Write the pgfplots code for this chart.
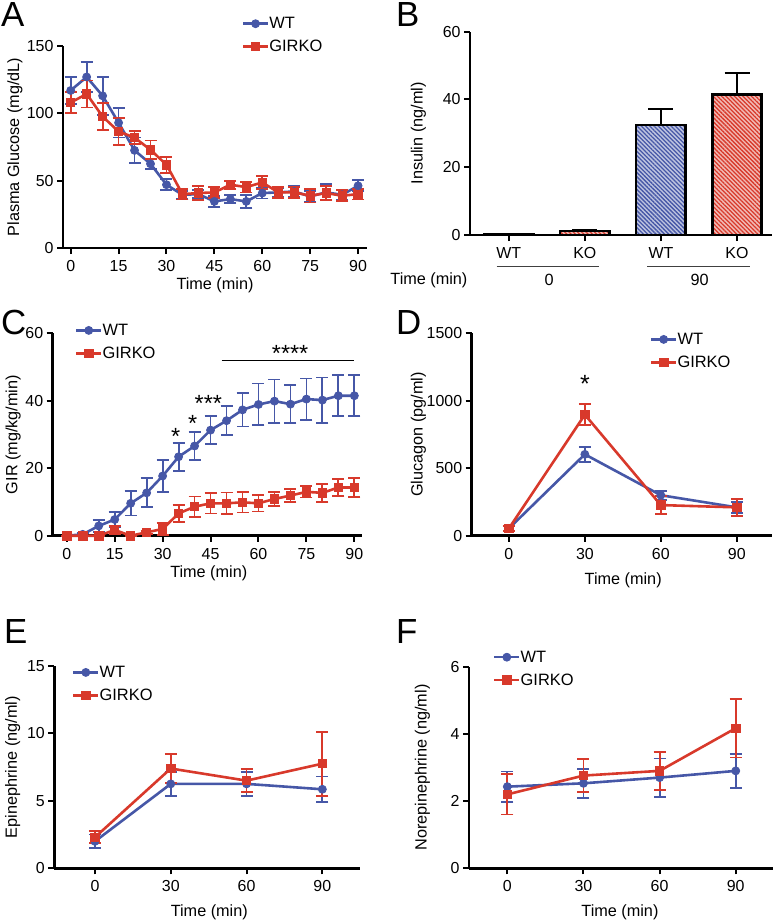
\documentclass[border=0pt]{standalone}
\usepackage{fontspec}
\setmainfont{Liberation Sans}
\usepackage{pgfplots}
\pgfplotsset{compat=1.18}
\usepackage{pgfplotstable}
\usetikzlibrary{patterns.meta}

\definecolor{wtblue}{HTML}{4657A7}
\definecolor{kored}{HTML}{D8392B}
\newcommand{\legfont}{\fontsize{16.5}{19}\selectfont}

\pgfplotstableread{
t m e
0 117 10
5 127 11
10 113 14
15 93 11
20 72.5 9.5
25 62.5 4
30 47 4
35 39.5 3
40 40 3
45 34.6 4
50 36.3 3
55 34.6 5
60 40.8 4
65 41.3 3
70 42 4
75 38.3 4
80 41.3 6
85 39.5 4
90 46.2 4
}\glucWT
\pgfplotstableread{
t m e
0 108 8
5 114.4 10
10 97.6 10
15 86.5 10
20 82 5
25 72.9 7
30 61.8 6
35 40 4
40 40.8 5
45 41.3 4
50 47 3
55 45.2 4
60 48.7 5
65 41.3 4
70 41.3 4
75 38.8 5
80 40.8 5
85 38.8 4
90 40 4
}\glucKO
\pgfplotstableread{
t m e
0 0 0
5 0.4 0.4
10 2.9 1.7
15 4.8 2.3
20 9.6 3.6
25 12.7 4.3
30 17.7 4.7
35 23.4 4.2
40 26.6 4.2
45 31.3 4.2
50 34.1 4.3
55 37.3 4.9
60 38.9 6.2
65 39.9 6.4
70 39.0 5.6
75 40.5 6.1
80 40.2 6.7
85 41.5 6.1
90 41.5 6.1
}\girWT
\pgfplotstableread{
t m e
0 0 0
5 0 0
10 0 0
15 1.7 1.2
20 0 0
25 1.0 0.5
30 2.0 1.8
35 6.6 2.6
40 8.6 3.0
45 9.6 3.0
50 9.6 3.2
55 9.9 3.0
60 9.6 2.4
65 10.9 2.0
70 11.9 2.0
75 13.0 1.7
80 12.7 2.6
85 14.3 2.6
90 14.3 2.8
}\girKO
\pgfplotstableread{
t m e
0 54 20
30 603 57
60 300 34
90 210 40
}\glucagonWT
\pgfplotstableread{
t m e
0 54 20
30 897 79
60 227 65
90 210 62
}\glucagonKO
\pgfplotstableread{
t m e
0 2.0 0.5
30 6.26 0.9
60 6.26 0.9
90 5.86 0.95
}\epiWT
\pgfplotstableread{
t m e
0 2.3 0.45
30 7.4 1.1
60 6.5 0.85
90 7.76 2.37
}\epiKO
\pgfplotstableread{
t m e
0 2.43 0.45
30 2.53 0.43
60 2.70 0.57
90 2.90 0.5
}\neWT
\pgfplotstableread{
t m e
0 2.2 0.6
30 2.76 0.5
60 2.9 0.57
90 4.17 0.87
}\neKO

\pgfplotsset{
  gp/.style={
    scale only axis,
    axis lines=left,
    axis line style={-, line width=2.6bp, black},
    every tick/.style={black, line width=2bp},
    tick align=outside,
    major tick length=6bp,
    minor tick num=0,
    tick label style={font=\fontsize{16}{19}\selectfont},
    xticklabel style={yshift=-3bp},
    label style={font=\fontsize{16.3}{19.5}\selectfont},
    /pgf/number format/assume math mode=true,
    /pgf/number format/1000 sep={},
    scaled ticks=false,
    clip=false,
    legend cell align=left,
    legend style={draw=none, fill=none, inner sep=0pt, outer sep=0pt,
      font=\legfont, row sep=10bp,
      nodes={inner sep=0pt, font=\legfont}, anchor=north west,
      /tikz/every even column/.style={column sep=12.5bp}},
    legend image code/.code={\draw[##1, mark repeat=2, mark phase=2] plot coordinates {(0bp,0bp) (12.5bp,0bp) (25bp,0bp)};},
  },
  wt/.style={wtblue, line width=2.6bp, mark=*, mark size=4bp,
    mark options={solid, fill=wtblue, line width=0.8bp},
    error bars/.cd, y dir=both, y explicit,
    error bar style={line width=1.8bp, wtblue},
    error mark options={rotate=90, line width=1.8bp, mark size=6bp, wtblue}},
  ko/.style={kored, line width=2.6bp, mark=square*, mark size=4.2bp,
    mark options={solid, fill=kored, line width=0.8bp},
    error bars/.cd, y dir=both, y explicit,
    error bar style={line width=1.8bp, kored},
    error mark options={rotate=90, line width=1.8bp, mark size=6bp, kored}},
  barb/.style={ybar, bar width=0.65, bar shift=0pt, draw=black, line width=2.5bp,
    fill=#1!35, postaction={pattern={Lines[angle=-45,distance=3bp,line width=1.3bp]}, pattern color=#1},
    error bars/.cd, y dir=plus, y explicit,
    error bar style={line width=2bp, black},
    error mark options={rotate=90, line width=2bp, mark size=12.5bp, black}},
}

\begin{document}
\begin{tikzpicture}
\path[use as bounding box] (0,0) rectangle (777bp,-923bp);

\node[anchor=base west, font=\fontsize{35}{40}\selectfont, inner sep=0pt] at (1bp,-26.5bp) {A};
\node[anchor=base west, font=\fontsize{35}{40}\selectfont, inner sep=0pt] at (396bp,-26.5bp) {B};
\node[anchor=base west, font=\fontsize{35}{40}\selectfont, inner sep=0pt] at (1bp,-334bp) {C};
\node[anchor=base west, font=\fontsize{35}{40}\selectfont, inner sep=0pt] at (396bp,-334bp) {D};
\node[anchor=base west, font=\fontsize{35}{40}\selectfont, inner sep=0pt] at (4bp,-643bp) {E};
\node[anchor=base west, font=\fontsize{35}{40}\selectfont, inner sep=0pt] at (396bp,-643bp) {F};

% A
\begin{axis}[gp, at={(63bp,-248bp)}, anchor=south west, width=304bp, height=202bp,
  xmin=-2.41, xmax=92.8, ymin=0, ymax=150,
  xtick={0,15,...,90}, ytick={0,50,100,150},
  xlabel={Time (min)}, ylabel={Plasma Glucose (mg/dL)},
  xlabel style={at={(axis description cs:0.5,-0.185)}, anchor=center},
  ylabel style={at={(axis description cs:-0.158,0.5)}, anchor=center},
  legend style={at={(axis description cs:0.588,1.142)}}]
\addplot[wt] table[x=t,y=m,y error=e]{\glucWT};
\addplot[ko] table[x=t,y=m,y error=e]{\glucKO};
\legend{WT,GIRKO}
\end{axis}

% B
\begin{axis}[gp, at={(470bp,-235bp)}, anchor=south west, width=302bp, height=203.3bp,
  xmin=-0.51, xmax=3.46, ymin=0, ymax=60,
  xtick={0,1,2,3}, xticklabels={WT,KO,WT,KO}, ytick={0,20,40,60},
  ylabel={Insulin (ng/ml)},
  ylabel style={at={(axis description cs:-0.171,0.5)}, anchor=center}]
\addplot[barb=wtblue] coordinates {(0,0.3) +- (0,0.1)};
\addplot[barb=kored] coordinates {(1,1.2) +- (0,0.4)};
\addplot[barb=wtblue] coordinates {(2,32.5) +- (0,4.6)};
\addplot[barb=kored] coordinates {(3,41.5) +- (0,6.2)};
\draw[line width=1bp, black!75] (axis cs:-0.16,-9.15) -- (axis cs:1.18,-9.15);
\draw[line width=1bp, black!75] (axis cs:1.82,-9.15) -- (axis cs:3.17,-9.15);
\node[font=\fontsize{16.3}{19.5}\selectfont] at (axis cs:0.53,-13.3) {0};
\node[font=\fontsize{16.3}{19.5}\selectfont] at (axis cs:2.51,-13.3) {90};
\node[font=\fontsize{16.3}{19.5}\selectfont] at (axis cs:-1.05,-13.3) {Time (min)};
\end{axis}

% C
\begin{axis}[gp, at={(52.7bp,-535.7bp)}, anchor=south west, width=309bp, height=202.4bp,
  xmin=-4.4, xmax=92.3, ymin=0, ymax=60,
  xtick={0,15,...,90}, ytick={0,20,40,60},
  xlabel={Time (min)}, ylabel={GIR (mg/kg/min)},
  xlabel style={at={(axis description cs:0.505,-0.186)}, anchor=center},
  ylabel style={at={(axis description cs:-0.128,0.5)}, anchor=center},
  legend style={at={(axis description cs:0.072,1.046)}}]
\addplot[wt] table[x=t,y=m,y error=e]{\girWT};
\addplot[ko] table[x=t,y=m,y error=e]{\girKO};
\legend{WT,GIRKO}
\node[anchor=base, font=\fontsize{23.5}{27}\selectfont] at (axis cs:34.1,26.9) {*};
\node[anchor=base, font=\fontsize{23.5}{27}\selectfont] at (axis cs:39.4,30.8) {*};
\node[anchor=base, font=\fontsize{23.5}{27}\selectfont] at (axis cs:44.3,36.8) {***};
\node[anchor=base, font=\fontsize{23.5}{27}\selectfont] at (axis cs:69.9,51.6) {****};
\draw[line width=1.2bp, black] (axis cs:48.5,51.9) -- (axis cs:90,51.9);
\end{axis}

% D
\begin{axis}[gp, at={(471.7bp,-535.7bp)}, anchor=south west, width=300bp, height=202.4bp,
  xmin=-14.7, xmax=103.8, ymin=0, ymax=1500,
  xtick={0,30,60,90}, ytick={0,500,1000,1500},
  xlabel={Time (min)}, ylabel={Glucagon (pg/ml)},
  xlabel style={at={(axis description cs:0.505,-0.219)}, anchor=center},
  ylabel style={at={(axis description cs:-0.178,0.5)}, anchor=center},
  legend style={at={(axis description cs:0.594,1.0015)}}]
\addplot[wt] table[x=t,y=m,y error=e]{\glucagonWT};
\addplot[ko] table[x=t,y=m,y error=e]{\glucagonKO};
\legend{WT,GIRKO}
\node[anchor=base, font=\fontsize{25}{28}\selectfont] at (axis cs:30,1060) {*};
\end{axis}

% E
\begin{axis}[gp, at={(54.3bp,-868.3bp)}, anchor=south west, width=305.7bp, height=202.3bp,
  xmin=-16.1, xmax=104.9, ymin=0, ymax=15,
  xtick={0,30,60,90}, ytick={0,5,10,15},
  xlabel={Time (min)}, ylabel={Epinephrine (ng/ml)},
  xlabel style={at={(axis description cs:0.507,-0.218)}, anchor=center},
  ylabel style={at={(axis description cs:-0.136,0.5)}, anchor=center},
  legend style={at={(axis description cs:0.058,1.0)}}]
\addplot[wt] table[x=t,y=m,y error=e]{\epiWT};
\addplot[ko] table[x=t,y=m,y error=e]{\epiKO};
\legend{WT,GIRKO}
\end{axis}

% F
\begin{axis}[gp, at={(469bp,-868.3bp)}, anchor=south west, width=304.3bp, height=201.6bp,
  xmin=-15.1, xmax=104.8, ymin=0, ymax=6,
  xtick={0,30,60,90}, ytick={0,2,4,6},
  xlabel={Time (min)}, ylabel={Norepinephrine (ng/ml)},
  xlabel style={at={(axis description cs:0.496,-0.219)}, anchor=center},
  ylabel style={at={(axis description cs:-0.153,0.5)}, anchor=center},
  legend style={at={(axis description cs:0.079,1.079)}}]
\addplot[wt] table[x=t,y=m,y error=e]{\neWT};
\addplot[ko] table[x=t,y=m,y error=e]{\neKO};
\legend{WT,GIRKO}
\end{axis}
\end{tikzpicture}
\end{document}
